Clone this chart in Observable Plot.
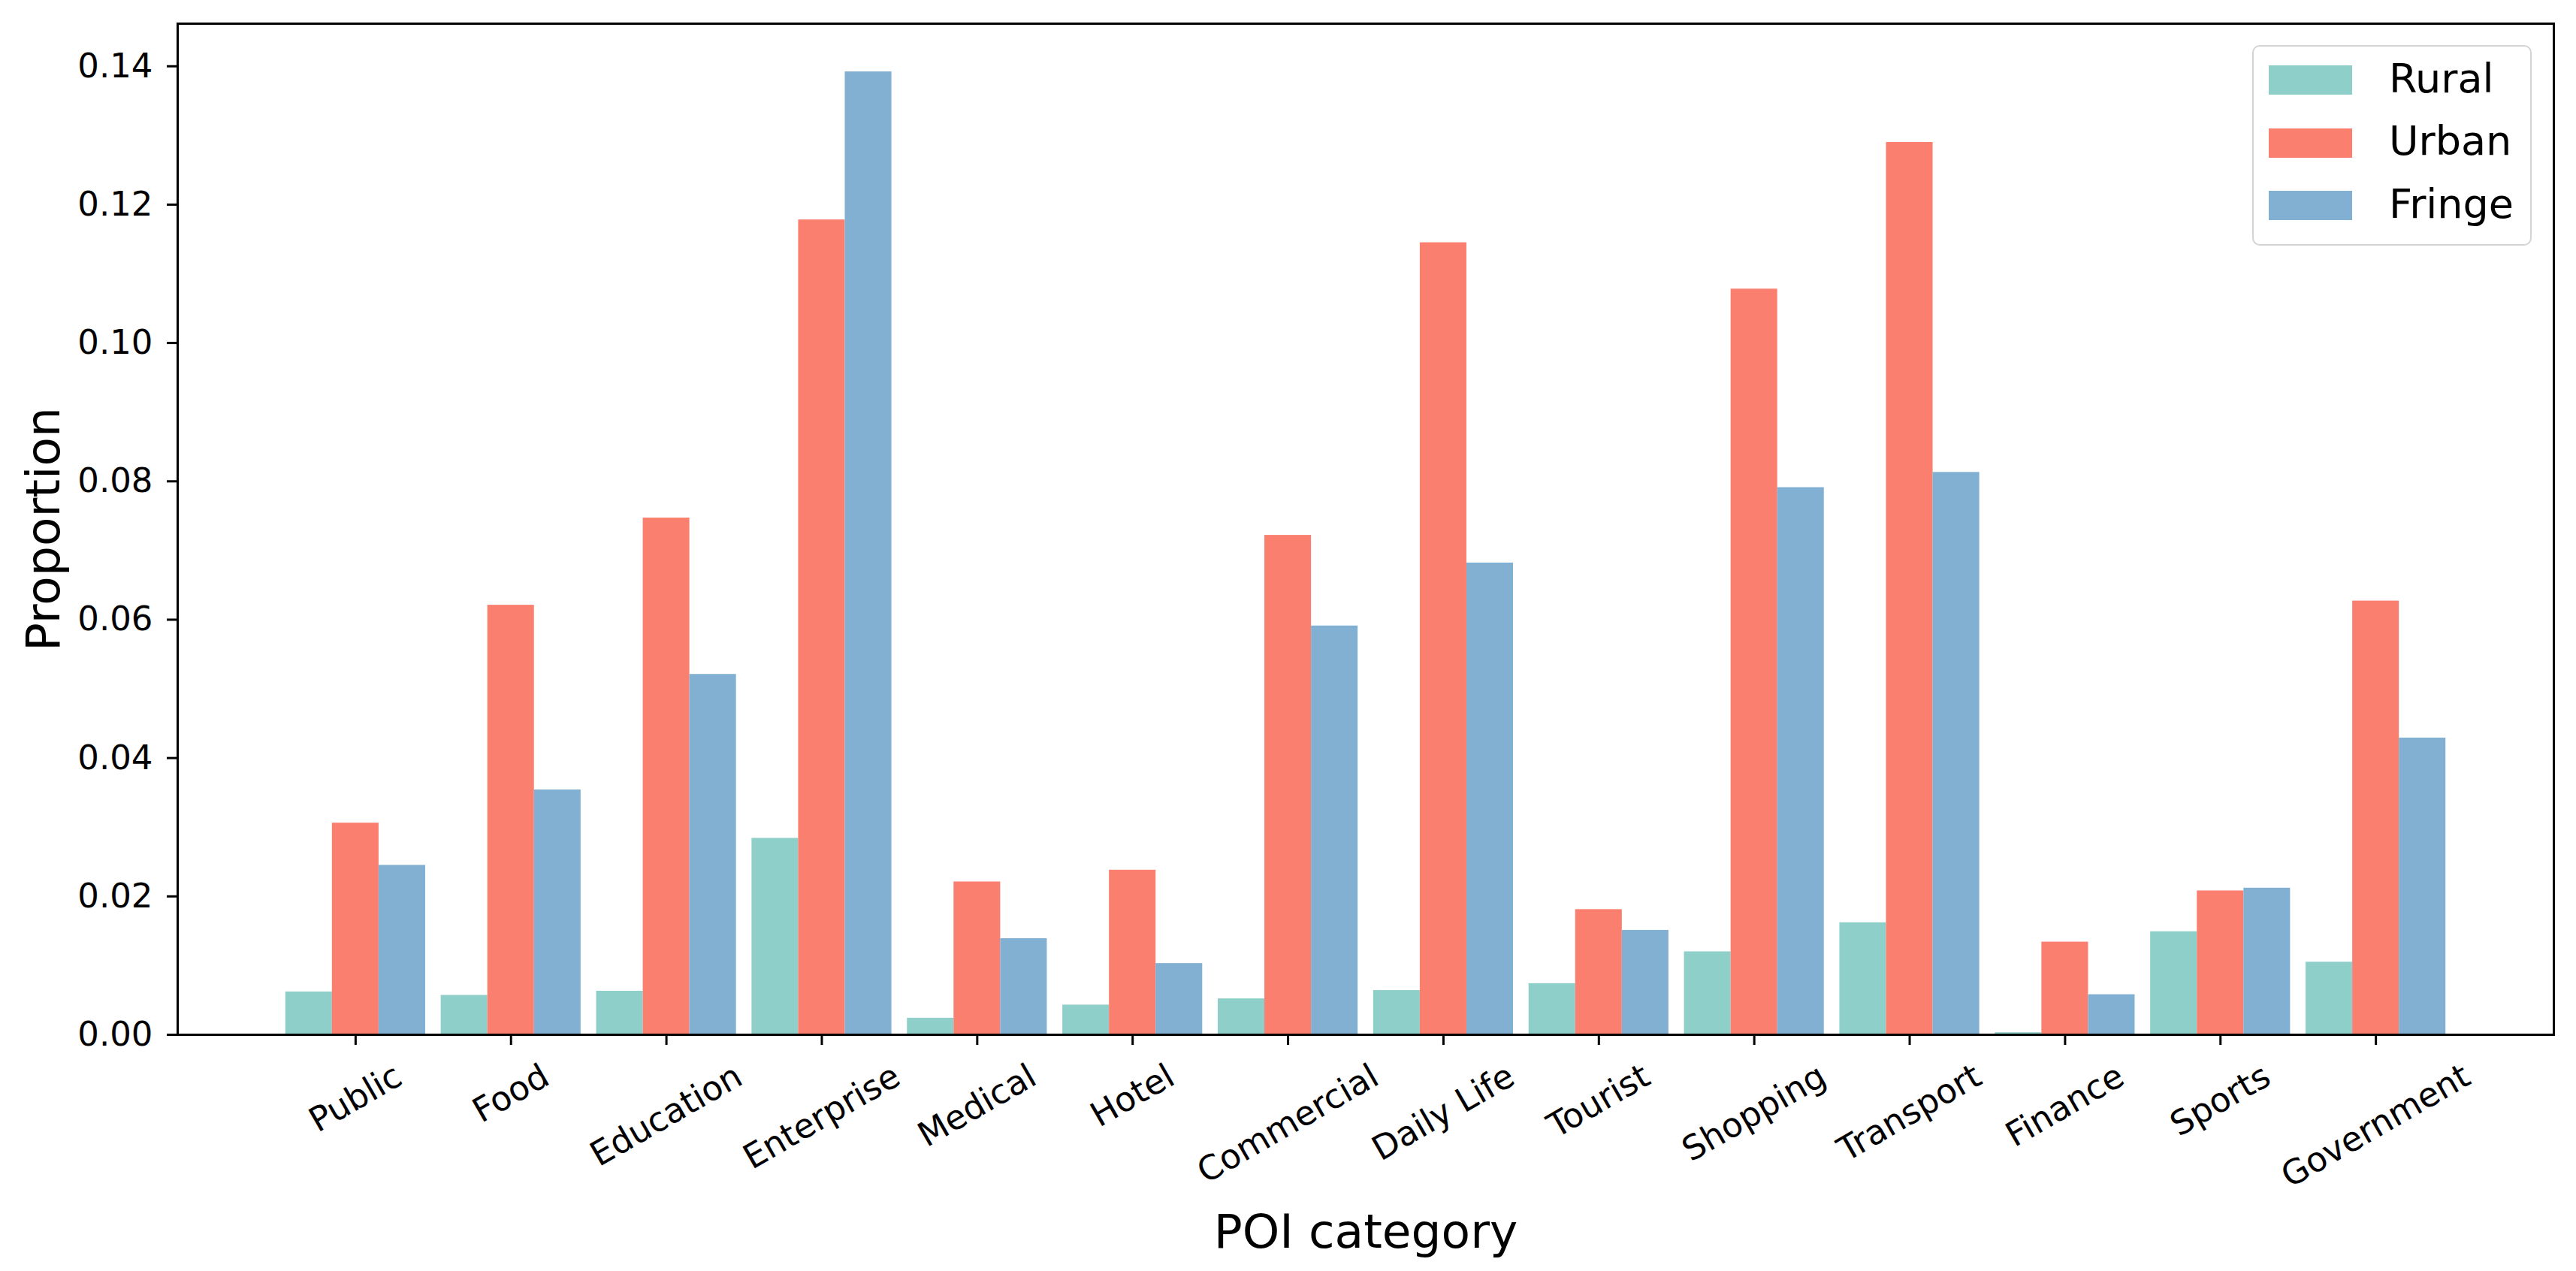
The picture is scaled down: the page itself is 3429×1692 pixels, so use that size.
<!DOCTYPE html>
<html>
<head>
<meta charset="utf-8">
<script src="https://cdn.jsdelivr.net/npm/d3@7"></script>
<script src="https://cdn.jsdelivr.net/npm/@observablehq/plot@0.6"></script>
<style>
  html, body { margin: 0; padding: 0; background: #fff; }
  #wrap { position: relative; width: 3429px; height: 1692px; font-family: "DejaVu Sans", sans-serif; }
  .legend { position: absolute; left: 2998px; top: 60px; width: 368px; height: 263px;
            border: 2px solid #d4d4d4; border-radius: 10px; background: rgba(255,255,255,0.8); }
  .sw { position: absolute; left: 20px; width: 111px; height: 39px; }
  .lt { position: absolute; left: 180px; font-size: 54px; line-height: 54px; color: #000; }
</style>
</head>
<body>
<div id="wrap"></div>
<script>
// ---- data ----
const categories = ["Public", "Food", "Education", "Enterprise", "Medical", "Hotel", "Commercial",
  "Daily Life", "Tourist", "Shopping", "Transport", "Finance", "Sports", "Government"];
const series = ["Rural", "Urban", "Fringe"];
const rural  = [0.0062, 0.0057, 0.0063, 0.0284, 0.0024, 0.0043, 0.0052, 0.0064, 0.0074, 0.0120, 0.0162, 0.0003, 0.0149, 0.0105];
const urban  = [0.0306, 0.0621, 0.0747, 0.1178, 0.0221, 0.0238, 0.0722, 0.1145, 0.0181, 0.1078, 0.1290, 0.0134, 0.0208, 0.0627];
const fringe = [0.0245, 0.0354, 0.0521, 0.1392, 0.0139, 0.0103, 0.0591, 0.0682, 0.0151, 0.0791, 0.0813, 0.0058, 0.0212, 0.0429];
const colors = ["#8ECFC9", "#FA7F6F", "#82B0D2"];
const yTicks = [0, 0.02, 0.04, 0.06, 0.08, 0.10, 0.12, 0.14];

// ---- layout ----
const W = 3429, H = 1692;
const mL = 236, mR = 30, mT = 31, mB = 315;
const barW = 0.3;
const values = [rural, urban, fringe];
const rows = categories.flatMap((c, i) => series.map((s, j) => ({i, c, s, j, v: values[j][i]})));
const xmax = categories.length - 1 + 1.5 * barW;
const xmin = -1.5 * barW;
const pad = 0.05 * (xmax - xmin);
const ymax = d3.max(values.flat()) * 1.05;

const tickFont = 45, labelFont = 63;
const ctx = document.createElement("canvas").getContext("2d");
ctx.font = `${tickFont}px "DejaVu Sans"`;
const lineH = tickFont * 1.164;
const tickLabelMarks = categories.map((c, i) => {
  const w = ctx.measureText(c).width;
  const bh = w * Math.sin(Math.PI / 6) + lineH * Math.cos(Math.PI / 6);
  const dy = 29 + bh / 2;
  return Plot.text([c], {x: () => i, y: () => 0, rotate: -30, textAnchor: "middle",
    lineAnchor: "middle", dy, fontSize: tickFont, fill: "#000"});
});

const chart = Plot.plot({
  width: W, height: H,
  marginLeft: mL, marginRight: mR, marginTop: mT, marginBottom: mB,
  style: {fontFamily: "DejaVu Sans", fontSize: `${tickFont}px`, color: "#000", background: "#fff"},
  x: {type: "linear", domain: [xmin - pad, xmax + pad], axis: null},
  y: {domain: [0, ymax], axis: null},
  color: {domain: series, range: colors},
  marks: [
    Plot.rect(rows, {
      x1: d => d.i + (d.j - 1) * barW - barW / 2,
      x2: d => d.i + (d.j - 1) * barW + barW / 2,
      y1: 0, y2: "v", fill: "s"
    }),
    Plot.axisY(yTicks, {tickSize: 14, tickPadding: 19, tickFormat: d3.format(".2f"),
      label: null, fontSize: tickFont, strokeWidth: 3, stroke: "#000", fill: "#000"}),
    Plot.axisX(categories.map((_, i) => i), {tickSize: 14, tickFormat: () => "", label: null,
      strokeWidth: 3, stroke: "#000"}),
    ...tickLabelMarks,
    Plot.frame({stroke: "#000", strokeWidth: 3}),
    Plot.text(["Proportion"], {frameAnchor: "left", rotate: -90, dx: -178, textAnchor: "middle",
      lineAnchor: "middle", fontSize: labelFont, fill: "#000"}),
    Plot.text(["POI category"], {frameAnchor: "bottom", dy: 263, textAnchor: "middle",
      lineAnchor: "middle", fontSize: labelFont, fill: "#000"})
  ]
});

const wrap = document.getElementById("wrap");
wrap.appendChild(chart);

// legend
const leg = document.createElement("div");
leg.className = "legend";
series.forEach((s, j) => {
  const top = 25 + j * 83.5;
  const sw = document.createElement("div");
  sw.className = "sw";
  sw.style.top = top + "px";
  sw.style.background = colors[j];
  leg.appendChild(sw);
  const t = document.createElement("div");
  t.className = "lt";
  t.style.top = (top + 19.5 - 27 - 2) + "px";
  t.textContent = s;
  leg.appendChild(t);
});
wrap.appendChild(leg);
</script>
</body>
</html>
